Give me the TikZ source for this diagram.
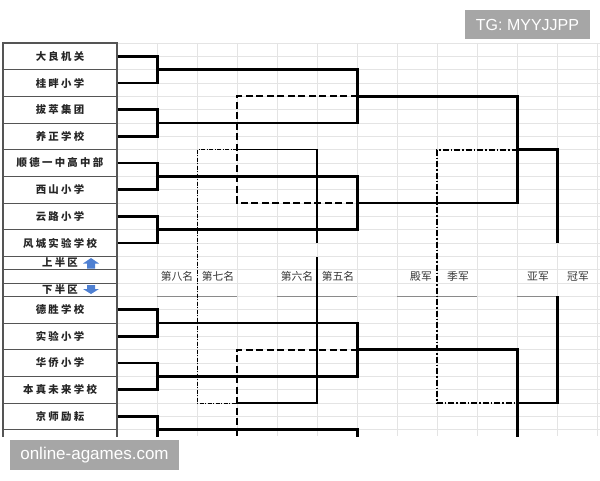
\documentclass[tikz,border=0pt]{standalone}
\usepackage{fontspec}
\newfontfamily\cjk{Noto Sans CJK SC}
\newfontfamily\cjkteam[LetterSpace=22]{Noto Sans CJK SC}
\newfontfamily\wmfont{Liberation Sans}
\usetikzlibrary{calc}

\definecolor{gridgray}{HTML}{E4E4E4}
\definecolor{cellgray}{HTML}{555555}
\definecolor{rulegray}{HTML}{8A8A8A}
\definecolor{arrowblue}{HTML}{4F80D2}
\definecolor{wmgray}{HTML}{A6A6A6}

\tikzset{
  gridln/.style={draw=gridgray, line width=0.7pt},
  team/.style={draw=cellgray, line width=1pt, minimum width=114pt, minimum height=26.67pt,
    inner sep=0pt, font=\cjkteam\bfseries\fontsize{10.4}{12}\selectfont, text=black!85},
  halfrow/.style={team, minimum height=13.33pt},
  win/.style={line width=2.4pt},
  lose/.style={line width=2.2pt, dash pattern=on 7pt off 3.5pt},
  fifth/.style={line width=1.6pt},
  seventh/.style={line width=0.9pt, dash pattern=on 4pt off 1.5pt on 1pt off 1.5pt},
  third/.style={line width=1.9pt, dash pattern=on 6pt off 2pt on 1.5pt off 2pt},
  rank/.style={font=\cjk\fontsize{10.8}{12}\selectfont, text=black!78},
  uline/.style={draw=rulegray, line width=1.2pt},
  wmbox/.style={fill=wmgray, text=white, inner sep=0pt}
}

\begin{document}
\begin{tikzpicture}[x=1pt, y=-1pt]
    \useasboundingbox (0,0) rectangle (600,480);
    \fill[white] (0,0) rectangle (600,480);

    \begin{scope}
        \clip (0,0) rectangle (600,436);
        % sheet grid
        \foreach \x in {117,157,...,597}
        \draw[gridln] (\x,43) -- (\x,436);
        \foreach \k in {0,...,29}
        \draw[gridln] (117,{43+13.333*\k}) -- (600,{43+13.333*\k});

        % teams, upper half
        \foreach \tm [count=\i] in {大良机关,桂畔小学,拔萃集团,养正学校,顺德一中高中部,西山小学,云路小学,风城实验学校}
        \node[team] (t\i) at (60,{43+26.667*(\i-0.5)}) {\tm};
        \node[halfrow] (up) at (60,263) {上半区};
        \node[halfrow] (down) at (60,289.67) {下半区};
        % teams, lower half
        \foreach \tm [count=\i] in {德胜学校,实验小学,华侨小学,本真未来学校,京师励耘,{}}
        \node[team] (b\i) at (60,{296.33+26.667*(\i-0.5)}) {\tm};
        \draw[cellgray, line width=1.3pt] (3,43) rectangle (117,480);

        \fill[arrowblue] (91,258) -- (99,263.5) -- (95,263.5) -- (95,268.5) -- (87,268.5) -- (87,263.5) -- (83,263.5) -- cycle;
        \fill[arrowblue] (91,294) -- (99,289) -- (95,289) -- (95,285) -- (87,285) -- (87,289) -- (83,289) -- cycle;

        % places
        \node[rank] (p8) at (177,276.8) {第八名};
        \node[rank] (p7) at (218,276.8) {第七名};
        \node[rank] (p6) at (297,276.8) {第六名};
        \node[rank] (p5) at (338,276.8) {第五名};
        \node[rank] (p4) at (421,276.8) {殿军};
        \node[rank] (p3) at (458,276.8) {季军};
        \node[rank] (p2) at (538,276.8) {亚军};
        \node[rank] (p1) at (578,276.8) {冠军};
        \foreach \a/\b in {157/237, 277/357, 397/477, 517/557}
        \draw[uline] (\a,296.33) -- (\b,296.33);

        % first round
        \foreach \a/\b/\q in {t1/t2/q1,t3/t4/q2,t5/t6/q3,t7/t8/q4,b1/b2/q5,b3/b4/q6,b5/b6/q7} {
            \draw[win] (\a.east) -- ++(40,0) |- (\b.east);
            \coordinate (\q) at ($(\a.east)!.5!(\b.east)+(40,0)$);
        }
        \coordinate (q8) at ($(q7)+(0,53.33)$);
        % quarter-finals
        \foreach \a/\b/\s in {q1/q2/s1,q3/q4/s2,q5/q6/s3,q7/q8/s4} {
            \draw[win] (\a) -- ++(200,0) |- (\b);
            \coordinate (\s) at ($(\a)!.5!(\b)+(200,0)$);
        }
        % semi-finals
        \foreach \a/\b/\f in {s1/s2/f1,s3/s4/f2} {
            \draw[win] (\a) -- ++(160,0) |- (\b);
            \coordinate (\f) at ($(\a)!.5!(\b)+(160,0)$);
        }
        \coordinate (fin) at ($(f1)+(40,0)$);
        \draw[win] (f1) -- (fin) -- (fin |- t8);
        \draw[win] (f2) -- (f2 -| fin) -- (fin |- b1.north);

        \coordinate (l1) at (197,0);
        \coordinate (l2) at (237,0);
        \coordinate (l3) at (317,0);
        \coordinate (l4) at (437,0);
        % losers of the quarter-finals
        \draw[lose] (s1) -- (s1 -| l2) -- (s2 -| l2) -- (s2);
        \draw[lose] (s3) -- (s3 -| l2) -- (s4 -| l2) -- (s4);
        \draw[fifth] (l2 |- f1) -- (l3 |- f1) -- (l3 |- t8);
        \draw[fifth] (l3 |- t8.south) -- (l3 |- f2) -- (l2 |- f2);
        \draw[seventh] (l2 |- f1) -- (l1 |- f1) -- (l1 |- f2) -- (l2 |- f2);
        % losers of the semi-finals
        \draw[third] (f1) -- (l4 |- f1) -- (l4 |- f2) -- (f2);
    \end{scope}

    \node[wmbox, minimum width=125pt, minimum height=29pt, font=\wmfont\fontsize{16}{16}\selectfont] (tg) at (527.5,24.5) {TG: MYYJJPP};
    \node[wmbox, minimum width=169pt, minimum height=30pt, font=\wmfont\fontsize{17}{17}\selectfont] (site) at (94.5,455) {online-agames.com};
\end{tikzpicture}
\end{document}
